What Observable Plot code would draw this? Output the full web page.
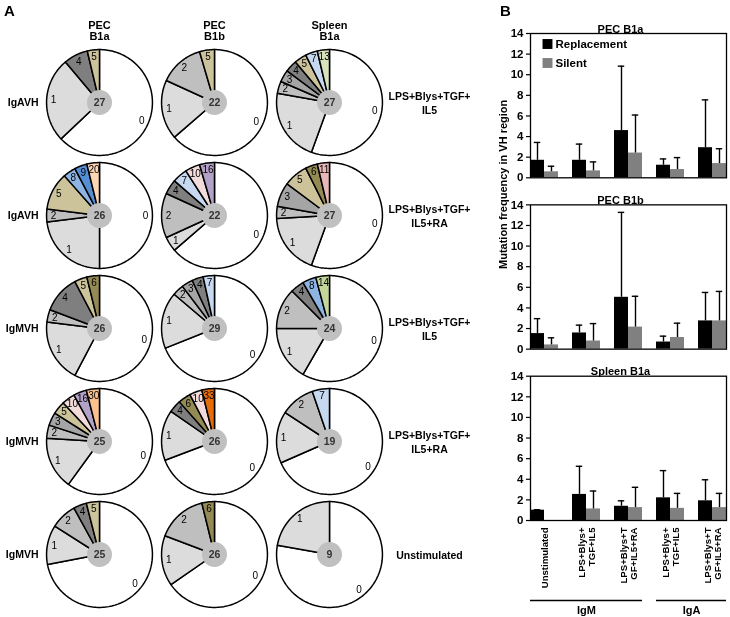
<!DOCTYPE html>
<html><head><meta charset="utf-8">
<script src="https://cdn.jsdelivr.net/npm/d3@7"></script>
<script src="https://cdn.jsdelivr.net/npm/@observablehq/plot@0.6"></script>
<style>
body{margin:0;background:#fff;font-family:Arial,"Liberation Sans",sans-serif;}
#wrap{position:relative;width:730px;height:617px;overflow:hidden;background:#fff}
#a{position:absolute;left:0;top:0}
#b{position:absolute;left:470px;top:0}
#a svg,#b svg{will-change:transform;background:transparent}
.tag{position:absolute;font-weight:bold;font-size:15px;line-height:15px;color:#000}
</style></head><body>
<div id="wrap"><div id="a"></div><div id="b"></div>
<div class="tag" style="left:4px;top:3px">A</div>
<div class="tag" style="left:500px;top:3px">B</div>
</div>
<script>
// ---------- Panel A data ----------
const columns = ["PEC B1a", "PEC B1b", "Spleen B1a"];
const columnHeaders = ["PEC\nB1a", "PEC\nB1b", "Spleen\nB1a"];
const rowIsotypes = ["IgAVH", "IgAVH", "IgMVH", "IgMVH", "IgMVH"];
const rowConditions = ["LPS+Blys+TGF+\nIL5", "LPS+Blys+TGF+\nIL5+RA", "LPS+Blys+TGF+\nIL5", "LPS+Blys+TGF+\nIL5+RA", "Unstimulated"];
// each pie: [number of mutations, number of sequences]
const piesRow1 = [
  [[0,17],[1,7],[4,2],[5,1]],
  [[0,14],[1,4],[2,3],[5,1]],
  [[0,15],[1,6],[2,1],[3,1],[4,1],[5,1],[7,1],[13,1]]
];
const piesRow2 = [
  [[0,13],[1,6],[2,1],[5,3],[8,1],[9,1],[20,1]],
  [[0,14],[1,1],[2,3],[4,1],[7,1],[10,1],[16,1]],
  [[0,15],[1,5],[2,1],[3,2],[5,2],[6,1],[11,1]]
];
const piesRow3 = [
  [[0,15],[1,5],[2,1],[4,3],[5,1],[6,1]],
  [[0,20],[1,5],[2,1],[3,1],[4,1],[7,1]],
  [[0,14],[1,4],[2,3],[4,1],[8,1],[14,1]]
];
const piesRow4 = [
  [[0,15],[1,4],[2,1],[3,1],[5,1],[10,1],[16,1],[30,1]],
  [[0,18],[1,4],[4,1],[6,1],[10,1],[33,1]],
  [[0,13],[1,3],[2,2],[7,1]]
];
const piesRow5 = [
  [[0,18],[1,3],[2,2],[4,1],[5,1]],
  [[0,17],[1,4],[2,4],[6,1]],
  [[0,7],[1,2]]
];
const mutationColors = {
  0:"#ffffff",1:"#dcdcdc",2:"#bfbfbf",3:"#a5a5a5",4:"#7f7f7f",5:"#cdc39b",6:"#948a54",
  7:"#c6d9f1",8:"#8db4e2",9:"#558ed5",10:"#f2dcdb",11:"#e6b9b8",13:"#d7e4bd",14:"#c3d69b",
  16:"#b3a2c7",20:"#fcd5b5",30:"#fac090",33:"#e46c0a"
};

// ---------- Panel B data ----------
const barPanels = ["PEC B1a", "PEC B1b", "Spleen B1a"];
const barGroups = ["Unstimulated", "LPS+Blys+\nTGF+IL5", "LPS+Blys+T\nGF+IL5+RA", "LPS+Blys+\nTGF+IL5", "LPS+Blys+T\nGF+IL5+RA"];
const groupIsotype = ["IgM", "IgM", "IgM", "IgA", "IgA"];
const seriesNames = ["Replacement", "Silent"];
const seriesColors = ["#000000", "#808080"];
const yTicks = [0, 2, 4, 6, 8, 10, 12, 14];
const pecB1aReplacement = [1.70, 1.70, 4.58, 1.22, 2.92];
const pecB1aReplacementSD = [1.73, 1.57, 6.25, 0.61, 4.64];
const pecB1aSilent = [0.58, 0.67, 2.40, 0.80, 1.38];
const pecB1aSilentSD = [0.54, 0.87, 3.69, 1.16, 1.44];
const pecB1bReplacement = [1.51, 1.57, 5.03, 0.69, 2.74];
const pecB1bReplacementSD = [1.45, 0.76, 8.24, 0.57, 2.76];
const pecB1bSilent = [0.41, 0.79, 2.14, 1.13, 2.74];
const pecB1bSilentSD = [0.69, 1.69, 2.99, 1.39, 2.86];
const spleenB1aReplacement = [1.00, 2.53, 1.38, 2.20, 1.91];
const spleenB1aReplacementSD = [0.05, 2.73, 0.53, 2.64, 2.04];
const spleenB1aSilent = [0.00, 1.12, 1.25, 1.18, 1.25];
const spleenB1aSilentSD = [0.00, 1.74, 1.97, 1.45, 1.38];

// ---------- Build panel A ----------
const FONT = "Arial, 'Liberation Sans', sans-serif";
const pieRows = [piesRow1, piesRow2, piesRow3, piesRow4, piesRow5];
const pies = pieRows.flatMap((row, r) => row.map((slices, c) => ({
  row: r, col: columns[c], slices, total: d3.sum(slices, d => d[1])
})));
const pieGen = d3.pie().sort(null).value(d => d[1]);
const wedges = pies.flatMap(p => pieGen(p.slices).map((a, i) => ({
  row: p.row, col: p.col, id: `${p.row}|${p.col}|${i}`, mutations: a.data[0],
  start: a.startAngle, end: a.endAngle, mid: (a.startAngle + a.endAngle) / 2
})));
const wedgeOutline = wedges.flatMap(w => {
  const n = Math.max(2, Math.ceil((w.end - w.start) / 0.03));
  const pts = [{...w, rr: 0, a: w.start}];
  for (let k = 0; k <= n; k++) pts.push({...w, rr: 1, a: w.start + (w.end - w.start) * k / n});
  return pts;
});
const rowInfo = rowIsotypes.map((ig, i) => ({row: i, ig, cond: rowConditions[i]}));
const colInfo = columns.map((c, i) => ({col: c, header: columnHeaders[i]}));

const plotA = Plot.plot({
  width: 470, height: 617,
  marginLeft: 45, marginRight: 87, marginTop: 48, marginBottom: 9,
  style: {fontFamily: FONT, fontSize: "10px", background: "transparent"},
  fx: {domain: columns, paddingInner: 7 / 115, paddingOuter: 0, round: false, axis: null},
  fy: {domain: d3.range(5), paddingInner: 5 / 113, paddingOuter: 0, round: false, axis: null},
  x: {domain: [-1.02, 1.02], axis: null},
  y: {domain: [-1.02, 1.02], axis: null},
  color: {type: "identity"},
  marks: [
    Plot.line(wedgeOutline, {
      x: d => d.rr * Math.sin(d.a), y: d => d.rr * Math.cos(d.a), z: "id",
      fx: "col", fy: "row", fill: d => mutationColors[d.mutations],
      stroke: "black", strokeWidth: 1.5, curve: "linear-closed", strokeLinejoin: "round"
    }),
    Plot.text(wedges, {
      x: d => 0.87 * Math.sin(d.mid), y: d => 0.87 * Math.cos(d.mid), fx: "col", fy: "row",
      text: d => String(d.mutations), fontSize: 10, fill: "black"
    }),
    Plot.dot(pies, {fx: "col", fy: "row", frameAnchor: "middle", r: 12.5, fill: "#c0c0c0", stroke: null}),
    Plot.text(pies, {fx: "col", fy: "row", frameAnchor: "middle", text: d => String(d.total), fontSize: 10.5, fontWeight: "bold", fill: "#333"}),
    Plot.text(colInfo, {fx: "col", fy: () => 0, frameAnchor: "top", lineAnchor: "bottom", dy: -9, text: "header", fontSize: 11, fontWeight: "bold", lineHeight: 0.98}),
    Plot.text(rowInfo, {fx: () => columns[0], fy: "row", frameAnchor: "left", dx: -7, textAnchor: "end", text: "ig", fontSize: 10.5, fontWeight: "bold"}),
    Plot.text(rowInfo, {fx: () => columns[2], fy: "row", frameAnchor: "right", dx: 46, textAnchor: "middle", text: "cond", fontSize: 10.5, fontWeight: "bold", lineHeight: 1.35})
  ]
});
document.getElementById("a").appendChild(plotA);

// ---------- Build panel B ----------
const barSource = {
  "PEC B1a": [[pecB1aReplacement, pecB1aReplacementSD], [pecB1aSilent, pecB1aSilentSD]],
  "PEC B1b": [[pecB1bReplacement, pecB1bReplacementSD], [pecB1bSilent, pecB1bSilentSD]],
  "Spleen B1a": [[spleenB1aReplacement, spleenB1aReplacementSD], [spleenB1aSilent, spleenB1aSilentSD]]
};
const bars = barPanels.flatMap(panel => barSource[panel].flatMap(([vals, sds], s) =>
  vals.map((v, g) => ({panel, g, s, value: v, sd: sds[g], color: seriesColors[s]}))));
const errBars = bars.filter(d => d.value > 0);
const lastPanel = barPanels[barPanels.length - 1];
const groupInfo = barGroups.map((label, g) => ({g, label}));
const isoSpans = Array.from(d3.group(groupInfo, d => groupIsotype[d.g]), ([iso, gs]) => ({
  iso, x1: 3 * d3.min(gs, d => d.g), x2: 3 * d3.max(gs, d => d.g) + 2
}));
const xMax = 3 * barGroups.length - 1;

const plotB = Plot.plot({
  width: 260, height: 617,
  marginLeft: 60, marginRight: 4, marginTop: 33, marginBottom: 97,
  style: {fontFamily: FONT, fontSize: "11px", background: "transparent"},
  x: {domain: [0, xMax], axis: null},
  y: {domain: [0, 14], axis: null},
  fy: {domain: barPanels, paddingInner: 27 / 171, paddingOuter: 0, round: false, axis: null},
  marks: [
    Plot.rectY(bars, {x1: d => 3 * d.g + d.s, x2: d => 3 * d.g + d.s + 1, y: "value", fy: "panel", fill: "color", inset: 0}),
    Plot.ruleX(errBars, {x: d => 3 * d.g + d.s + 0.5, y1: "value", y2: d => d.value + d.sd, fy: "panel", stroke: "black", strokeWidth: 1.4}),
    Plot.ruleY(errBars, {x1: d => 3 * d.g + d.s + 0.27, x2: d => 3 * d.g + d.s + 0.73, y: d => d.value + d.sd, fy: "panel", stroke: "black", strokeWidth: 1.4}),
    Plot.frame({stroke: "black", strokeWidth: 1.3}),
    Plot.axisY({ticks: yTicks, tickSize: 4, tickPadding: 3, label: null, fontWeight: "bold", fontSize: 11.5, strokeWidth: 1.2}),
    Plot.text(barPanels, {fy: d => d, frameAnchor: "top", lineAnchor: "bottom", dx: -8, dy: -1, text: d => d, fontWeight: "bold", fontSize: 11}),
    ...seriesNames.map((name, i) => Plot.dot([name], {fy: () => barPanels[0], frameAnchor: "top-left", dx: 17, dy: 10.5 + 19 * i, symbol: "square", r: 5.6, fill: seriesColors[i], stroke: null})),
    ...seriesNames.map((name, i) => Plot.text([name], {fy: () => barPanels[0], frameAnchor: "top-left", lineAnchor: "middle", dx: 25, dy: 11 + 19 * i, text: d => d, textAnchor: "start", fontWeight: "bold", fontSize: 11.5})),
    Plot.text([barPanels[1]], {fy: d => d, frameAnchor: "left", dx: -27, dy: -8, rotate: -90, text: () => "Mutation frequency in VH region", fontWeight: "bold", fontSize: 11}),
    Plot.text(groupInfo, {fy: () => lastPanel, x: d => 3 * d.g + 1, y: () => 0, dy: 7, rotate: -90, textAnchor: "end", text: "label", fontWeight: "bold", fontSize: 9.6, lineHeight: 1.08}),
    Plot.ruleY(isoSpans, {fy: () => lastPanel, x1: "x1", x2: "x2", y: () => 0, dy: 80, stroke: "black", strokeWidth: 1.3}),
    Plot.text(isoSpans, {fy: () => lastPanel, x: d => (d.x1 + d.x2) / 2, y: () => 0, dy: 90, text: "iso", fontWeight: "bold", fontSize: 11})
  ]
});
document.getElementById("b").appendChild(plotB);
</script>
</body></html>
